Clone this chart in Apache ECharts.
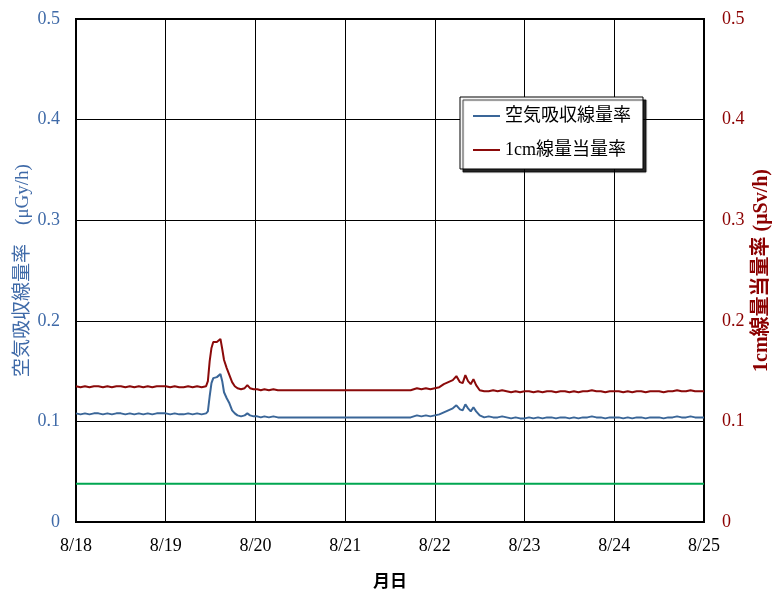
<!DOCTYPE html>
<html><head><meta charset="utf-8">
<script src="https://cdn.jsdelivr.net/npm/echarts@6/dist/echarts.min.js"></script>
<style>html,body{margin:0;padding:0;background:#fff}#c{width:783px;height:603px}</style>
</head><body><div id="c"></div>
<script>
// x = days since 8/18 00:00
const xTickLabels = ['8/18','8/19','8/20','8/21','8/22','8/23','8/24','8/25'];
const seriesNames = ['空気吸収線量率','1cm線量当量率'];
const airDose = [
 [0,0.108],[0.05,0.107],[0.1,0.108],[0.15,0.107],[0.2,0.108],[0.25,0.108],[0.3,0.107],[0.35,0.108],[0.4,0.107],[0.45,0.108],
 [0.5,0.108],[0.55,0.107],[0.6,0.108],[0.65,0.107],[0.7,0.108],[0.75,0.107],[0.8,0.108],[0.85,0.107],[0.9,0.108],[0.95,0.108],
 [1.0,0.108],[1.05,0.107],[1.1,0.108],[1.15,0.107],[1.2,0.107],[1.25,0.108],[1.3,0.107],[1.35,0.108],[1.4,0.107],[1.45,0.108],
 [1.47,0.110],[1.49,0.125],[1.51,0.138],[1.53,0.143],[1.55,0.142],[1.57,0.144],[1.59,0.143],[1.61,0.147],[1.63,0.140],[1.65,0.129],
 [1.68,0.123],[1.71,0.118],[1.74,0.111],[1.77,0.108],[1.80,0.106],[1.84,0.105],[1.88,0.106],[1.91,0.108],[1.94,0.106],[1.98,0.105],
 [2.02,0.105],[2.06,0.104],[2.1,0.105],[2.15,0.104],[2.2,0.105],[2.25,0.104],
 [3.73,0.104],[3.75,0.105],[3.8,0.106],[3.85,0.105],[3.9,0.106],[3.95,0.105],[4.0,0.106],[4.05,0.107],[4.1,0.109],[4.15,0.111],
 [4.2,0.113],[4.24,0.116],[4.28,0.112],[4.31,0.111],[4.34,0.117],[4.37,0.113],[4.40,0.110],[4.43,0.114],[4.46,0.110],[4.50,0.106],
 [4.55,0.104],[4.6,0.105],[4.65,0.104],[4.7,0.104],[4.75,0.105],[4.8,0.104],[4.85,0.103],[4.9,0.104],[4.95,0.103],[5.0,0.103],
 [5.05,0.104],[5.1,0.103],[5.15,0.104],[5.2,0.103],[5.25,0.104],[5.3,0.104],[5.35,0.103],[5.4,0.104],[5.45,0.104],[5.5,0.103],
 [5.55,0.104],[5.6,0.103],[5.65,0.104],[5.7,0.104],[5.75,0.105],[5.8,0.104],[5.85,0.104],[5.9,0.103],[5.95,0.104],[6.0,0.104],
 [6.05,0.104],[6.1,0.103],[6.15,0.104],[6.2,0.103],[6.25,0.104],[6.3,0.104],[6.35,0.103],[6.4,0.104],[6.45,0.104],[6.5,0.104],
 [6.55,0.103],[6.6,0.104],[6.65,0.104],[6.7,0.105],[6.75,0.104],[6.8,0.104],[6.85,0.105],[6.9,0.104],[6.95,0.104],[7.0,0.104]
];
const doseEq = [
 [0,0.135],[0.05,0.134],[0.1,0.135],[0.15,0.134],[0.2,0.135],[0.25,0.135],[0.3,0.134],[0.35,0.135],[0.4,0.134],[0.45,0.135],
 [0.5,0.135],[0.55,0.134],[0.6,0.135],[0.65,0.134],[0.7,0.135],[0.75,0.134],[0.8,0.135],[0.85,0.134],[0.9,0.135],[0.95,0.135],
 [1.0,0.135],[1.05,0.134],[1.1,0.135],[1.15,0.134],[1.2,0.134],[1.25,0.135],[1.3,0.134],[1.35,0.135],[1.4,0.134],[1.45,0.135],
 [1.47,0.140],[1.49,0.160],[1.51,0.173],[1.53,0.179],[1.55,0.178],[1.57,0.179],[1.59,0.178],[1.61,0.182],[1.63,0.172],[1.65,0.161],
 [1.68,0.153],[1.71,0.146],[1.74,0.139],[1.77,0.135],[1.80,0.133],[1.84,0.132],[1.88,0.133],[1.91,0.136],[1.94,0.133],[1.98,0.132],
 [2.02,0.132],[2.06,0.131],[2.1,0.132],[2.15,0.131],[2.2,0.132],[2.25,0.131],
 [3.73,0.131],[3.75,0.132],[3.8,0.133],[3.85,0.132],[3.9,0.133],[3.95,0.132],[4.0,0.133],[4.05,0.134],[4.1,0.137],[4.15,0.139],
 [4.2,0.141],[4.24,0.145],[4.28,0.139],[4.31,0.138],[4.34,0.146],[4.37,0.140],[4.40,0.137],[4.43,0.142],[4.46,0.136],[4.50,0.131],
 [4.55,0.130],[4.6,0.130],[4.65,0.131],[4.7,0.130],[4.75,0.131],[4.8,0.130],[4.85,0.129],[4.9,0.130],[4.95,0.129],[5.0,0.130],
 [5.05,0.130],[5.1,0.129],[5.15,0.130],[5.2,0.129],[5.25,0.130],[5.3,0.130],[5.35,0.129],[5.4,0.130],[5.45,0.130],[5.5,0.129],
 [5.55,0.130],[5.6,0.129],[5.65,0.130],[5.7,0.130],[5.75,0.131],[5.8,0.130],[5.85,0.130],[5.9,0.129],[5.95,0.130],[6.0,0.130],
 [6.05,0.130],[6.1,0.129],[6.15,0.130],[6.2,0.129],[6.25,0.130],[6.3,0.130],[6.35,0.129],[6.4,0.130],[6.45,0.130],[6.5,0.130],
 [6.55,0.129],[6.6,0.130],[6.65,0.130],[6.7,0.131],[6.75,0.130],[6.8,0.130],[6.85,0.131],[6.9,0.130],[6.95,0.130],[7.0,0.130]
];
const refLevel = [[0,0.038],[7,0.038]];

const serif = '"Liberation Serif","DejaVu Serif",serif';
const mixed = '"Liberation Serif","Noto Sans CJK JP",serif';
const chart = echarts.init(document.getElementById('c'), null, {renderer:'canvas'});
chart.setOption({
  animation:false,
  grid:{left:76,right:79,top:19,bottom:81,show:true,borderColor:'#000',borderWidth:2,backgroundColor:'transparent'},
  legend:{
    data:seriesNames, orient:'vertical', left:460, top:97, padding:[10,12,10,13], itemGap:16,
    backgroundColor:'#fff', borderColor:'#000', borderWidth:1,
    shadowColor:'rgba(0,0,0,0.85)', shadowOffsetX:3, shadowOffsetY:3, shadowBlur:1,
    icon:'rect', itemWidth:27, itemHeight:2,
    textStyle:{fontFamily:mixed, fontSize:18, color:'#000'}
  },
  xAxis:{
    type:'value', min:0, max:7, interval:1,
    name:'月日', nameLocation:'middle', nameGap:50, nameMoveOverlap:false,
    nameTextStyle:{fontFamily:'"Noto Sans CJK JP"', fontSize:17, color:'#000', fontWeight:'bold'},
    axisLine:{show:false}, axisTick:{show:false},
    axisLabel:{formatter:(v)=>xTickLabels[Math.round(v)], margin:15, fontFamily:serif, fontSize:18, color:'#000'},
    splitLine:{show:true, lineStyle:{color:'#000', width:1}}
  },
  yAxis:[{
    type:'value', min:0, max:0.5, interval:0.1, position:'left',
    name:'空気吸収線量率　(μGy/h)', nameLocation:'middle', nameGap:43, nameRotate:90, nameMoveOverlap:false,
    nameTextStyle:{fontFamily:mixed, fontSize:19, color:'#3f6aa8'},
    axisLine:{show:false}, axisTick:{show:false},
    axisLabel:{margin:16, fontFamily:serif, fontSize:18, color:'#3f6aa8'},
    splitLine:{show:true, lineStyle:{color:'#000', width:1}}
  },{
    type:'value', min:0, max:0.5, interval:0.1, position:'right',
    name:'1cm線量当量率 (μSv/h)', nameLocation:'middle', nameGap:48, nameRotate:90, nameMoveOverlap:false,
    nameTextStyle:{fontFamily:mixed, fontSize:20, color:'#8b0000', fontWeight:'bold'},
    axisLine:{show:false}, axisTick:{show:false},
    axisLabel:{margin:18, fontFamily:serif, fontSize:18, color:'#8b0000'},
    splitLine:{show:false}
  }],
  series:[
    {name:'基準', type:'line', data:refLevel, showSymbol:false, lineStyle:{color:'#00a651', width:2}, itemStyle:{color:'#00a651'}, z:1},
    {name:seriesNames[0], type:'line', yAxisIndex:0, data:airDose, showSymbol:false, lineStyle:{color:'#3a6698', width:2}, itemStyle:{color:'#3a6698'}, z:3},
    {name:seriesNames[1], type:'line', yAxisIndex:1, data:doseEq, showSymbol:false, lineStyle:{color:'#8b0a0a', width:2}, itemStyle:{color:'#8b0a0a'}, z:3}
  ]
});
</script></body></html>
